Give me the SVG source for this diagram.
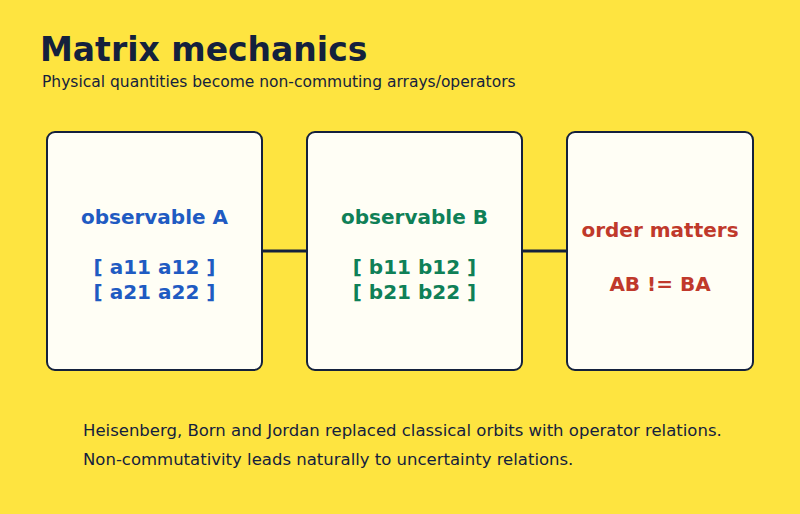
<svg xmlns="http://www.w3.org/2000/svg" width="800" height="514" viewBox="0 0 800 514">
<style>
text{font-family:"DejaVu Sans",sans-serif}
.box{fill:#fffef5;stroke:#14213d;stroke-width:2}
.lbl{font-size:20px;font-weight:bold;text-anchor:middle}
.con{stroke:#14213d;stroke-width:3;fill:none}
.note{font-size:16.5px;fill:#14213d}
</style>
<rect width="800" height="514" fill="#fee440"/>
<text x="40" y="61" font-size="33" font-weight="bold" fill="#14213d">Matrix mechanics</text>
<text x="42" y="87" font-size="15.5" fill="#14213d">Physical quantities become non-commuting arrays/operators</text>
<g id="connectors">
<line class="con" x1="262" y1="251" x2="307" y2="251"/>
<polyline class="con" points="316,243 307,251 316,259"/>
<line class="con" x1="522" y1="251" x2="567" y2="251"/>
<polyline class="con" points="576,243 567,251 576,259"/>
</g>
<g id="nodeA">
<rect class="box" x="47" y="132" width="215" height="238" rx="8"/>
<text class="lbl" x="154.5" y="224" fill="#1f5bc2">observable A</text>
<text class="lbl" x="154.5" y="274" fill="#1f5bc2">[ a11  a12 ]</text>
<text class="lbl" x="154.5" y="299" fill="#1f5bc2">[ a21  a22 ]</text>
</g>
<g id="nodeB">
<rect class="box" x="307" y="132" width="215" height="238" rx="8"/>
<text class="lbl" x="414.5" y="224" fill="#0f8057">observable B</text>
<text class="lbl" x="414.5" y="274" fill="#0f8057">[ b11  b12 ]</text>
<text class="lbl" x="414.5" y="299" fill="#0f8057">[ b21  b22 ]</text>
</g>
<g id="nodeC">
<rect class="box" x="567" y="132" width="186" height="238" rx="8"/>
<text class="lbl" x="660" y="237" fill="#c0392b">order matters</text>
<text class="lbl" x="660" y="291" fill="#c0392b">AB != BA</text>
</g>
<text class="note" x="83" y="436">Heisenberg, Born and Jordan replaced classical orbits with operator relations.</text>
<text class="note" x="83" y="465">Non-commutativity leads naturally to uncertainty relations.</text>
</svg>
